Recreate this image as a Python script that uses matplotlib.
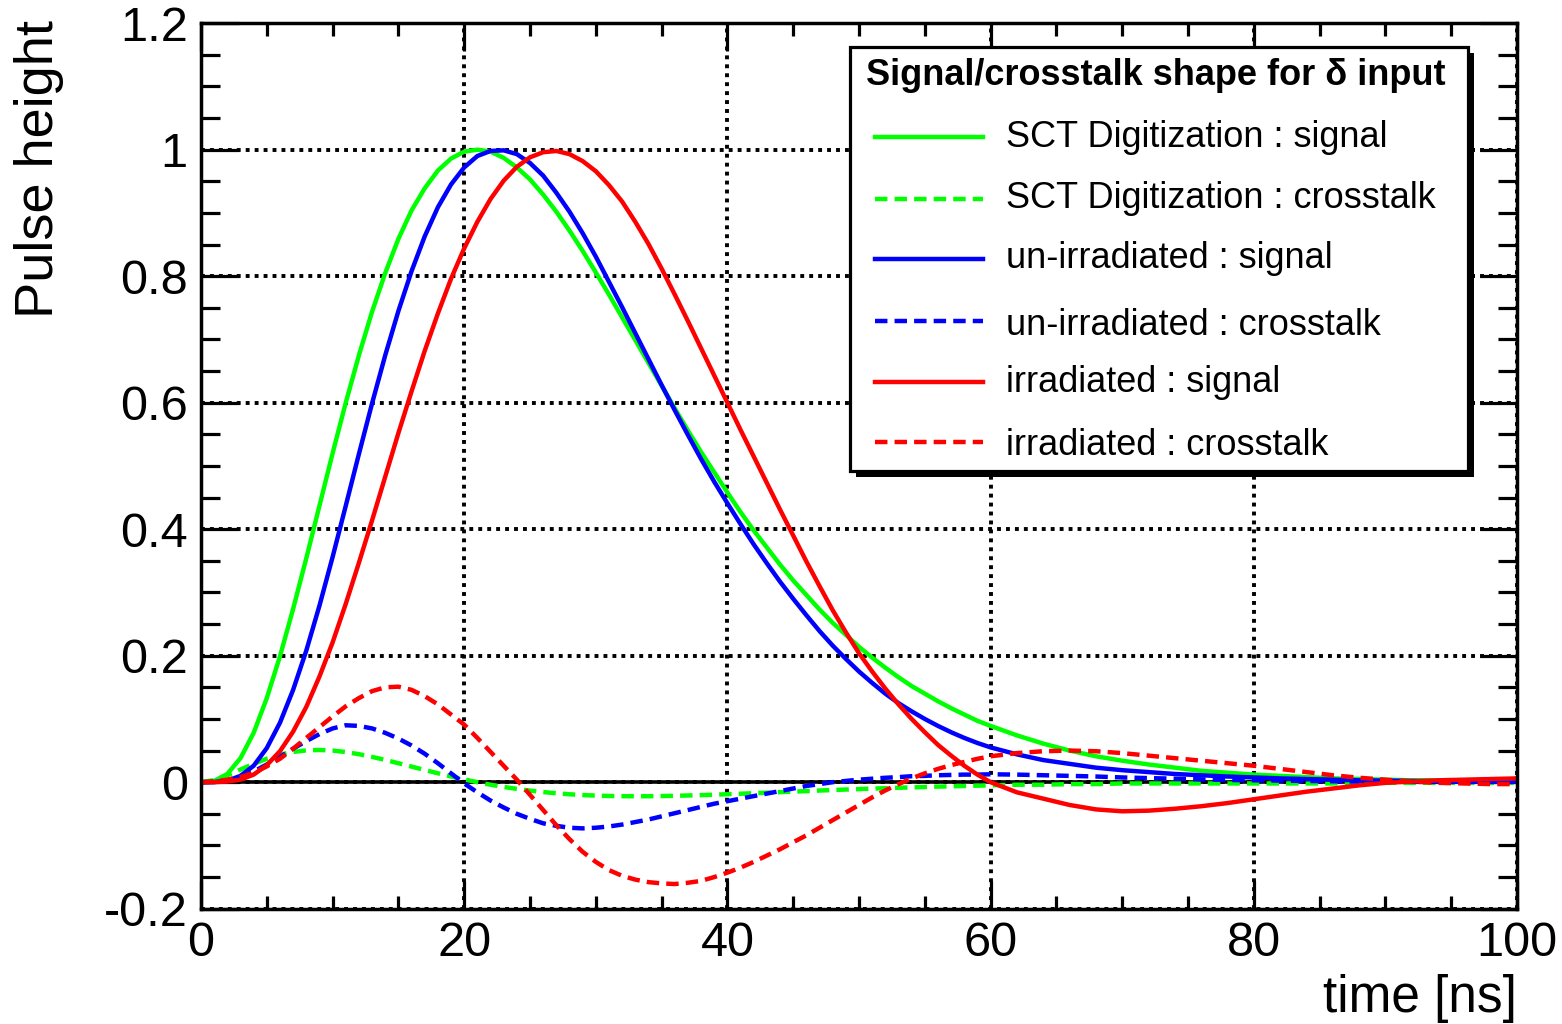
import matplotlib
matplotlib.use("Agg")
import matplotlib.pyplot as plt
from matplotlib.lines import Line2D
from matplotlib.patches import Rectangle
from matplotlib.ticker import MultipleLocator

plt.rcParams['font.family'] = ['Liberation Sans', 'DejaVu Sans']

# ---- data: pulse shapes, 1 ns steps up to 59 ns, then 2 ns steps ----
time_ns = list(range(0, 60)) + list(range(60, 101, 2))

sct_signal = [0, 0.002, 0.013, 0.038, 0.078, 0.133, 0.199, 0.274, 0.354, 0.437,
              0.520, 0.600, 0.675, 0.744, 0.805, 0.859, 0.904, 0.939, 0.967, 0.986,
              0.997, 1.000, 0.997, 0.987, 0.972, 0.953, 0.929, 0.902, 0.872, 0.840,
              0.806, 0.771, 0.735, 0.699, 0.663, 0.627, 0.591, 0.556, 0.522, 0.490,
              0.458, 0.427, 0.398, 0.371, 0.344, 0.319, 0.296, 0.273, 0.252, 0.233,
              0.214, 0.197, 0.181, 0.166, 0.152, 0.140, 0.128, 0.117, 0.107, 0.097,
              0.089, 0.074, 0.061, 0.050, 0.041, 0.034, 0.028, 0.023, 0.018, 0.015,
              0.012, 0.010, 0.008, 0.006, 0.005, 0.004, 0.003, 0.003, 0.002, 0.002,
              0.001]
sct_crosstalk = [0, 0.0033, 0.0108, 0.0200, 0.0291, 0.0371, 0.0435, 0.0479, 0.0503, 0.0510,
                 0.0500, 0.0477, 0.0443, 0.0400, 0.0352, 0.0300, 0.0247, 0.0193, 0.0141, 0.0091,
                 0.0044, 0.0000, -0.0040, -0.0075, -0.0106, -0.0133, -0.0156, -0.0175, -0.0191, -0.0203,
                 -0.0212, -0.0218, -0.0221, -0.0222, -0.0222, -0.0219, -0.0215, -0.0210, -0.0204, -0.0198,
                 -0.0190, -0.0182, -0.0174, -0.0166, -0.0157, -0.0149, -0.0141, -0.0132, -0.0124, -0.0116,
                 -0.0109, -0.0101, -0.0095, -0.0088, -0.0082, -0.0076, -0.0070, -0.0065, -0.0060, -0.0055,
                 -0.005, -0.004, -0.004, -0.003, -0.003, -0.002, -0.002, -0.002, -0.002, -0.002,
                 -0.002, -0.002, -0.002, -0.002, -0.001, -0.001, -0.001, -0.001, -0.001, -0.001,
                 -0.001]
unirr_signal = [0, 0.0002, 0.0024, 0.010, 0.026, 0.054, 0.094, 0.146, 0.208, 0.279,
                0.356, 0.437, 0.519, 0.599, 0.675, 0.745, 0.808, 0.863, 0.909, 0.945,
                0.972, 0.990, 0.998, 0.999, 0.993, 0.979, 0.959, 0.932, 0.902, 0.868,
                0.831, 0.791, 0.751, 0.710, 0.669, 0.628, 0.588, 0.549, 0.511, 0.475,
                0.441, 0.408, 0.376, 0.346, 0.317, 0.290, 0.264, 0.239, 0.216, 0.195,
                0.175, 0.157, 0.140, 0.125, 0.112, 0.100, 0.089, 0.079, 0.070, 0.062,
                0.055, 0.044, 0.035, 0.029, 0.023, 0.019, 0.016, 0.013, 0.011, 0.009,
                0.0075, 0.006, 0.005, 0.004, 0.003, 0.0025, 0.002, 0.0015, 0.001, 0.001,
                0.001]
unirr_crosstalk = [0, 0.0005, 0.003, 0.009, 0.017, 0.028, 0.040, 0.053, 0.065, 0.076,
                   0.085, 0.090, 0.089, 0.085, 0.078, 0.069, 0.058, 0.045, 0.030, 0.014,
                   -0.002, -0.016, -0.029, -0.040, -0.050, -0.058, -0.065, -0.069, -0.072, -0.073,
                   -0.072, -0.070, -0.067, -0.063, -0.059, -0.054, -0.049, -0.044, -0.039, -0.034,
                   -0.030, -0.026, -0.022, -0.018, -0.014, -0.010, -0.006, -0.003, 0.000, 0.002,
                   0.004, 0.0055, 0.007, 0.008, 0.0095, 0.010, 0.011, 0.0115, 0.012, 0.012,
                   0.0125, 0.012, 0.011, 0.010, 0.009, 0.0075, 0.0065, 0.0055, 0.0045, 0.0035,
                   0.003, 0.0025, 0.002, 0.0015, 0.001, 0.001, 0.0005, 0.0005, 0.0005, 0.0005,
                   0.0005]
irr_signal = [0, 0.0001, 0.001, 0.004, 0.012, 0.027, 0.049, 0.080, 0.119, 0.167,
              0.221, 0.282, 0.347, 0.414, 0.483, 0.552, 0.618, 0.682, 0.741, 0.796,
              0.844, 0.886, 0.922, 0.951, 0.973, 0.988, 0.996, 0.998, 0.993, 0.982,
              0.966, 0.944, 0.918, 0.886, 0.851, 0.812, 0.771, 0.729, 0.686, 0.643,
              0.600, 0.557, 0.515, 0.473, 0.431, 0.390, 0.349, 0.310, 0.272, 0.237,
              0.204, 0.175, 0.148, 0.123, 0.100, 0.079, 0.059, 0.042, 0.026, 0.012,
              0.000, -0.016, -0.026, -0.036, -0.043, -0.046, -0.045, -0.042, -0.038, -0.033,
              -0.027, -0.021, -0.015, -0.010, -0.005, -0.001, 0.001, 0.003, 0.004, 0.005,
              0.006]
irr_crosstalk = [0, 0.001, 0.004, 0.008, 0.015, 0.025, 0.037, 0.053, 0.070, 0.087,
                 0.104, 0.120, 0.133, 0.144, 0.150, 0.151, 0.146, 0.136, 0.123, 0.107,
                 0.091, 0.070, 0.048, 0.026, 0.004, -0.020, -0.044, -0.068, -0.090, -0.110,
                 -0.126, -0.139, -0.148, -0.154, -0.158, -0.160, -0.161, -0.159, -0.156, -0.150,
                 -0.143, -0.135, -0.126, -0.116, -0.106, -0.095, -0.084, -0.072, -0.060, -0.048,
                 -0.036, -0.024, -0.013, -0.003, 0.006, 0.014, 0.021, 0.027, 0.032, 0.037,
                 0.041, 0.046, 0.049, 0.050, 0.049, 0.046, 0.042, 0.038, 0.034, 0.030,
                 0.026, 0.021, 0.016, 0.011, 0.007, 0.004, 0.001, -0.001, -0.002, -0.003,
                 -0.003]

series_labels = ["SCT Digitization : signal", "SCT Digitization : crosstalk",
                 "un-irradiated : signal", "un-irradiated : crosstalk",
                 "irradiated : signal", "irradiated : crosstalk"]
series_values = [sct_signal, sct_crosstalk, unirr_signal, unirr_crosstalk,
                 irr_signal, irr_crosstalk]
series_colors = ["#00ff00", "#00ff00", "#0000ff", "#0000ff", "#ff0000", "#ff0000"]
series_dashed = [False, True, False, True, False, True]

x_ticks = [0, 20, 40, 60, 80, 100]
x_tick_labels = ["0", "20", "40", "60", "80", "100"]
y_ticks = [-0.2, 0, 0.2, 0.4, 0.6, 0.8, 1.0, 1.2]
y_tick_labels = ["-0.2", "0", "0.2", "0.4", "0.6", "0.8", "1", "1.2"]

# ---- figure layout (pixel helpers) ----
W, H = 1562, 1024
def fx(px):
    return px / W
def fy(py):
    return 1 - py / H

fig = plt.figure(figsize=(W / 100, H / 100), dpi=100)
ax_left, ax_right, ax_top, ax_bottom = 201, 1517, 23.2, 908.7
ax = fig.add_axes([fx(ax_left), fy(ax_bottom),
                   (ax_right - ax_left) / W, (ax_bottom - ax_top) / H])

LW = 3.2
dash = (0, (2.8, 1.6))
for vals, col, dashed in zip(series_values, series_colors, series_dashed):
    ax.plot(time_ns, vals, color=col, lw=LW,
            linestyle=dash if dashed else '-', zorder=3)

ax.axhline(0, color='black', lw=2.6, zorder=2)

ax.set_xlim(0, 100)
ax.set_ylim(-0.2, 1.2)
ax.set_xticks(x_ticks, x_tick_labels)
ax.set_yticks(y_ticks, y_tick_labels)
ax.xaxis.set_minor_locator(MultipleLocator(5))
ax.yaxis.set_minor_locator(MultipleLocator(0.05))

ax.grid(True, which='major', color='black', linestyle=(0, (1.0, 1.3)), lw=2.8)
ax.set_axisbelow('line')

ax.tick_params(which='both', direction='in', top=True, right=True,
               width=2.3, color='black', labelsize=35)
ax.tick_params(axis='x', which='major', length=20, pad=9)
ax.tick_params(axis='x', which='minor', length=9.5)
ax.tick_params(axis='y', which='major', length=27, pad=9.5)
ax.tick_params(axis='y', which='minor', length=13.5)
for sp in ax.spines.values():
    sp.set_linewidth(2.5)
    sp.set_zorder(5)

# axis titles
fig.text(fx(1517), fy(1011.7), "time [ns]", ha='right', va='baseline', fontsize=37)
fig.text(fx(39), fy(20), "Pulse height", rotation=90, ha='center', va='top', fontsize=39)

# ---- legend box with solid shadow ----
lx0, ly0, lx1, ly1 = 850, 47, 1468, 471
sh = 6
fig.add_artist(Rectangle((fx(lx0 + sh), fy(ly1 + sh)), (lx1 - lx0) / W, (ly1 - ly0) / H,
                         transform=fig.transFigure, facecolor='black', edgecolor='black',
                         lw=0, zorder=10))
fig.add_artist(Rectangle((fx(lx0), fy(ly1)), (lx1 - lx0) / W, (ly1 - ly0) / H,
                         transform=fig.transFigure, facecolor='white', edgecolor='black',
                         lw=2.3, zorder=11))
fig.text(fx(866), fy(85), "Signal/crosstalk shape for \u03b4 input", fontsize=26,
         fontweight='bold', ha='left', va='baseline', zorder=12)

row_line_y = [137, 199, 259, 321, 382, 442]
row_text_y = [147, 208, 268, 335, 392, 455]
for lab, col, dashed, yl, yt in zip(series_labels, series_colors, series_dashed,
                                    row_line_y, row_text_y):
    fig.add_artist(Line2D([fx(875), fx(983)], [fy(yl), fy(yl)], transform=fig.transFigure,
                          color=col, lw=LW, linestyle=dash if dashed else '-', zorder=12))
    fig.text(fx(1006), fy(yt), lab, fontsize=26, ha='left', va='baseline', zorder=12)

fig.savefig("out.png", dpi=100)
